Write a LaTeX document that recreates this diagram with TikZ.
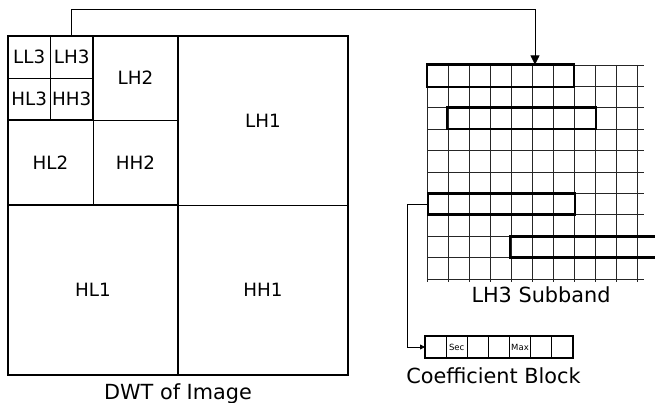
\documentclass[tikz,border=0pt]{standalone}
\usepackage{fontspec}
\setmainfont{DejaVu Sans}
\usetikzlibrary{arrows.meta}
\tikzset{
  band/.style={draw, line width=0.9pt, inner sep=0pt, outer sep=0pt, anchor=north west, font=\fontsize{18.3}{18.3}\selectfont},
  heavy/.style={line width=1.6pt},
  gridline/.style={line width=0.8pt, draw=black!85},
  selbox/.style={draw, line width=2.6pt, inner sep=0pt, outer sep=0pt, anchor=north west},
  caption/.style={anchor=base, inner sep=0pt, font=\fontsize{20.8}{20.8}\selectfont},
  tiny/.style={font=\fontsize{8.5}{8.5}\selectfont, inner sep=0pt},
  conn/.style={line width=0.8pt},
}
\begin{document}
\begin{tikzpicture}[x=1pt,y=-1pt]
\useasboundingbox (0,0) rectangle (655,403);
% level 3
\node[band, minimum width=42.5pt, minimum height=42pt] (ll3) at (8,36) {LL3};
\node[band, minimum width=42.5pt, minimum height=42pt] (lh3) at (50.5,36) {LH3};
\node[band, minimum width=42.5pt, minimum height=42pt] (hl3) at (8,78) {HL3};
\node[band, minimum width=42.5pt, minimum height=42pt] (hh3) at (50.5,78) {HH3};
% level 2
\node[band, minimum width=85pt, minimum height=84pt] (lh2) at (93,36) {LH2};
\node[band, minimum width=85pt, minimum height=85pt] (hl2) at (8,120) {HL2};
\node[band, minimum width=85pt, minimum height=85pt] (hh2) at (93,120) {HH2};
% level 1
\node[band, minimum width=170pt, minimum height=169pt] (lh1) at (178,36) {LH1};
\node[band, minimum width=170pt, minimum height=170pt] (hl1) at (8,205) {HL1};
\node[band, minimum width=170pt, minimum height=170pt] (hh1) at (178,205) {HH1};
% heavy outlines
\draw[heavy] (ll3.north west) rectangle (hh1.south east);
\draw[heavy] (ll3.north west) rectangle (hh2.south east);
\draw[heavy] (ll3.north west) rectangle (hh3.south east);
\draw[heavy] (lh1.south west) -- (hl1.south east);
\draw[heavy] (lh1.north west) -- (lh1.south west);
\node[caption] (dwt) at (178,399) {DWT of Image};
% subband grid
\foreach \i in {0,...,10} {
  \draw[gridline] (427+21*\i,65) -- (427+21*\i,282);
  \draw[gridline] (427,65+21.4*\i) -- (644,65+21.4*\i);
}
\node[selbox, minimum width=147pt, minimum height=22.4pt] (r1) at (427,64.5) {};
\node[selbox, minimum width=149pt, minimum height=21.4pt] (r2) at (447,107.8) {};
\node[selbox, minimum width=147pt, minimum height=21.4pt] (r3) at (428,193.4) {};
\coordinate (r4a) at (660,236.2);
\coordinate (r4b) at (510,257.6);
\draw[line width=2.6pt] (r4a) -| (r4b) -- (r4b -| r4a);
\node[caption] (sub) at (541,302) {LH3 Subband};
% coefficient block
\node[selbox, minimum width=148pt, minimum height=22pt] (blk) at (425,336) {};
\foreach \k in {1,...,6} {
  \draw[line width=0.8pt] (425+21.14*\k,336) -- (425+21.14*\k,358);
}
\node[tiny] (sec) at (456.7,347) {Sec};
\node[tiny] (max) at (520,347) {Max};
\node[caption] (cb) at (493.5,383) {Coefficient Block};
% connectors
\coordinate (turn) at (535,9);
\draw[conn, -{Triangle[length=9pt,width=9pt]}] (lh3.north) |- (turn) -- (turn |- r1.north);
\draw[conn, -{Triangle[length=5pt,width=5pt]}] (r3.west) -- ++(-21,0) |- (blk.west);
\end{tikzpicture}
\end{document}
